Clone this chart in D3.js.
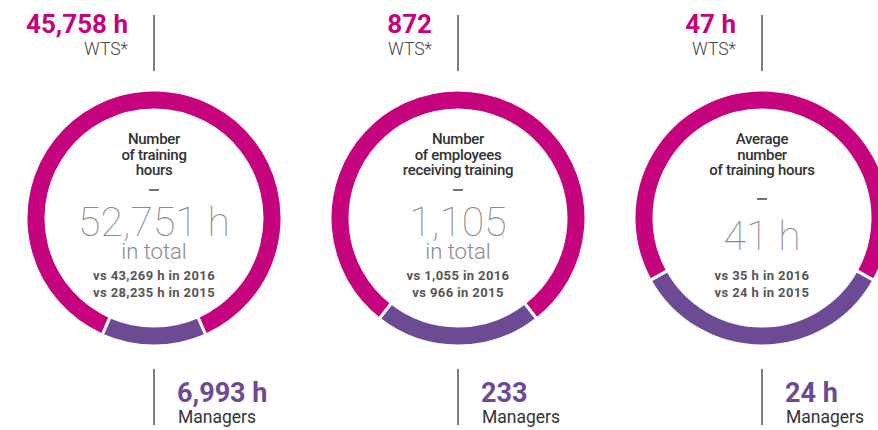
<!DOCTYPE html>
<html lang="en">
<head>
<meta charset="UTF-8">
<title>Training hours</title>
<script src="https://cdn.jsdelivr.net/npm/d3@7"></script>
<style>
  body { margin: 0; background: #fff; }
  svg { display: block; font-family: Roboto, "Open Sans", sans-serif; }
</style>
</head>
<body>
<svg id="chart"></svg>
<script>
// values
var wtsValues = [45758, 872, 47];
var managerValues = [6993, 233, 24];
var wtsLabels = ["45,758 h", "872", "47 h"];
var managerLabels = ["6,993 h", "233", "24 h"];
var titles = [
  ["Number", "of training", "hours"],
  ["Number", "of employees", "receiving training"],
  ["Average", "number", "of training hours"]
];
var totals = ["52,751 h", "1,105", "41 h"];
var totalSubs = ["in total", "in total", ""];
var vs2016 = ["vs 43,269 h in 2016", "vs 1,055 in 2016", "vs 35 h in 2016"];
var vs2015 = ["vs 28,235 h in 2015", "vs 966 in 2015", "vs 24 h in 2015"];

var width = 878, height = 430;
var magenta = "#c4037c", purple = "#6c4a94";
var cy = 218, outerR = 128, innerR = 108;

var svg = d3.select("#chart").attr("width", width).attr("height", height);

var x = d3.scaleBand().domain(d3.range(3)).range([2, 914]);

var arc = d3.arc().innerRadius(innerR).outerRadius(outerR);

d3.range(3).forEach(function (i) {
  var cx = x(i) + x.bandwidth() / 2;
  var g = svg.append("g").attr("transform", "translate(" + cx + "," + cy + ")");

  // managers share centred at the bottom of the ring
  var span = 2 * Math.PI * managerValues[i] / (wtsValues[i] + managerValues[i]);
  var pie = d3.pie().sort(null).value(function (d) { return d; })
    .startAngle(Math.PI + span / 2).endAngle(3 * Math.PI + span / 2);

  g.selectAll("path")
    .data(pie([wtsValues[i], managerValues[i]]))
    .enter().append("path")
    .attr("d", arc)
    .attr("fill", function (d, j) { return j ? purple : magenta; })
    .attr("stroke", "#fff")
    .attr("stroke-width", 3);

  // centre text
  g.selectAll(".title")
    .data(titles[i])
    .enter().append("text")
    .attr("class", "title")
    .attr("text-anchor", "middle")
    .attr("y", function (d, k) { return -74 + k * 15.5; })
    .attr("fill", "#333")
    .attr("font-size", 15)
    .attr("font-weight", 500)
    .style("letter-spacing", "-0.3px")
    .text(function (d) { return d; });

  var hasSub = totalSubs[i] !== "";
  var dashY = hasSub ? -28 : -19;
  g.append("line")
    .attr("x1", -5).attr("x2", 5)
    .attr("y1", dashY).attr("y2", dashY)
    .attr("stroke", "#444").attr("stroke-width", 1.5);

  g.append("text")
    .attr("text-anchor", "middle")
    .attr("y", hasSub ? 18 : 32)
    .attr("fill", "#8a8a8a")
    .attr("font-size", 41)
    .attr("font-weight", 100)
    .text(totals[i]);

  if (hasSub) {
    g.append("text")
      .attr("text-anchor", "middle")
      .attr("y", 41)
      .attr("fill", "#8a8a8a")
      .attr("font-size", 22)
      .attr("font-weight", 300)
      .text(totalSubs[i]);
  }

  g.selectAll(".vs")
    .data([vs2016[i], vs2015[i]])
    .enter().append("text")
    .attr("class", "vs")
    .attr("text-anchor", "middle")
    .attr("y", function (d, k) { return 62 + k * 17; })
    .attr("fill", "#555")
    .attr("font-size", 13)
    .attr("font-weight", 700)
    .style("letter-spacing", "0.4px")
    .text(function (d) { return d; });

  // top callout: WTS
  g.append("line")
    .attr("x1", 0).attr("x2", 0)
    .attr("y1", 15 - cy).attr("y2", 71 - cy)
    .attr("stroke", "#555").attr("stroke-width", 1.5);
  g.append("text")
    .attr("text-anchor", "end")
    .attr("x", -26).attr("y", 33 - cy)
    .attr("fill", magenta)
    .attr("font-size", 26)
    .attr("font-weight", 700)
    .text(wtsLabels[i]);
  g.append("text")
    .attr("text-anchor", "end")
    .attr("x", -26).attr("y", 55 - cy)
    .attr("fill", "#444")
    .attr("font-size", 17.5)
    .attr("font-weight", 300)
    .text("WTS*");

  // bottom callout: managers
  g.append("line")
    .attr("x1", 0).attr("x2", 0)
    .attr("y1", 369 - cy).attr("y2", 425 - cy)
    .attr("stroke", "#555").attr("stroke-width", 1.5);
  g.append("text")
    .attr("x", 23).attr("y", 402 - cy)
    .attr("fill", purple)
    .attr("font-size", 27)
    .attr("font-weight", 700)
    .text(managerLabels[i]);
  g.append("text")
    .attr("x", 24).attr("y", 423 - cy)
    .attr("fill", "#333")
    .attr("font-size", 17.5)
    .attr("font-weight", 400)
    .text("Managers");
});
</script>
</body>
</html>
